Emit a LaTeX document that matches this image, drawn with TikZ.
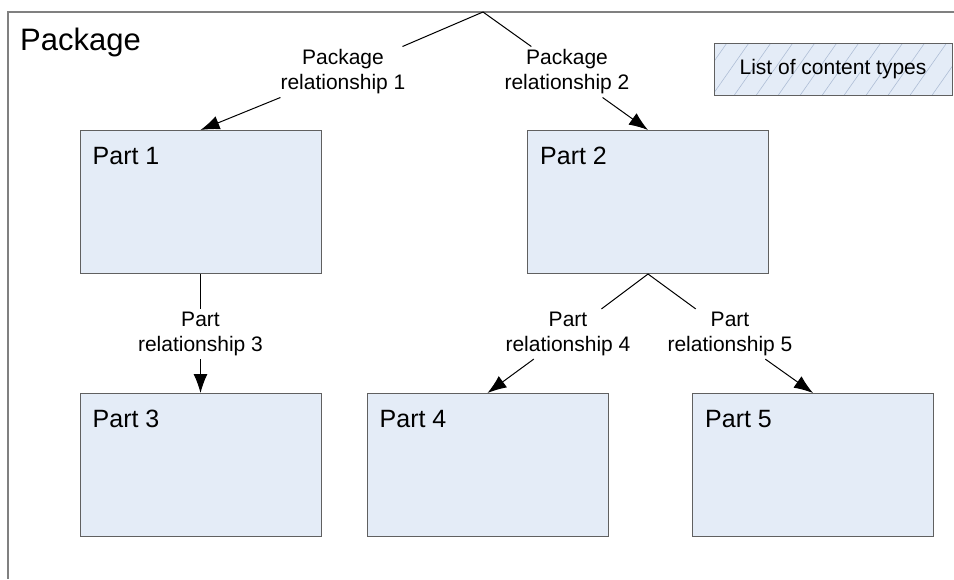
\documentclass[tikz,border=0pt]{standalone}
\usepackage{fontspec}
\setmainfont{Liberation Sans}
\usepackage{tikz}
\usetikzlibrary{arrows.meta}
\usetikzlibrary{patterns.meta}
\definecolor{partfill}{RGB}{228,236,247}
\definecolor{partline}{RGB}{96,96,96}
\definecolor{framegray}{RGB}{128,128,128}
\definecolor{hatchblue}{RGB}{175,190,214}
\tikzset{
	partnode/.style={rectangle, draw=partline, fill=partfill, line width=1pt, minimum width=241pt, minimum height=143pt, inner sep=0pt},
	partlabel/.style={anchor=north west, inner sep=0pt, xshift=13pt, yshift=-17pt, font=\fontsize{25}{30}\selectfont},
	relnode/.style={align=center, font=\fontsize{21}{25}\selectfont, inner sep=3pt},
	relarrow/.style={line width=1pt, -{Latex[length=19pt,width=14pt]}}
}

\begin{document}
\begin{tikzpicture}[x=1pt,y=-1pt]
			\useasboundingbox (0,0) rectangle (954,579);
			% package frame
			\draw [framegray,line width=1.5pt] (954,12)-- (8,12)-- (8,579);
			\node[anchor=base west, inner sep=0pt, font=\fontsize{31}{36}\selectfont] (pkg) at (20,50) {Package};
			\coordinate (root) at (483,12);
			
			\node[rectangle, draw=partline, line width=1pt, minimum width=238pt, minimum height=52pt,
				preaction={fill=partfill}, pattern={Lines[angle=55,distance=18pt,line width=0.6pt]}, pattern color=hatchblue,
				font=\fontsize{21}{25}\selectfont] (ctypes) at (833,69) {List of content types};
			
			\node[partnode, label={[partlabel]north west:Part 1}] (part1) at (200.5,202) {};
			\node[partnode, label={[partlabel]north west:Part 2}] (part2) at (648,202) {};
			\node[partnode, label={[partlabel]north west:Part 3}] (part3) at (200.5,465) {};
			\node[partnode, label={[partlabel]north west:Part 4}] (part4) at (487.5,465) {};
			\node[partnode, label={[partlabel]north west:Part 5}] (part5) at (813,465) {};
			
			\node[relnode] (rel1) at (343,72) {Package\\relationship 1};
			\node[relnode] (rel2) at (567,72) {Package\\relationship 2};
			\node[relnode] (rel3) at (200.5,334) {Part\\relationship 3};
			\node[relnode] (rel4) at (568,334) {Part\\relationship 4};
			\node[relnode] (rel5) at (730,334) {Part\\relationship 5};
			
			\draw [line width=1pt] (root)-- (rel1);
			\draw [relarrow] (rel1)-- (part1.north);
			\draw [line width=1pt] (root)-- (rel2);
			\draw [relarrow] (rel2)-- (part2.north);
			\draw [line width=1pt] (part1.south)-- (rel3);
			\draw [relarrow] (rel3)-- (part3.north);
			\draw [line width=1pt] (part2.south)-- (rel4);
			\draw [relarrow] (rel4)-- (part4.north);
			\draw [line width=1pt] (part2.south)-- (rel5);
			\draw [relarrow] (rel5)-- (part5.north);
		\end{tikzpicture}
\end{document}
